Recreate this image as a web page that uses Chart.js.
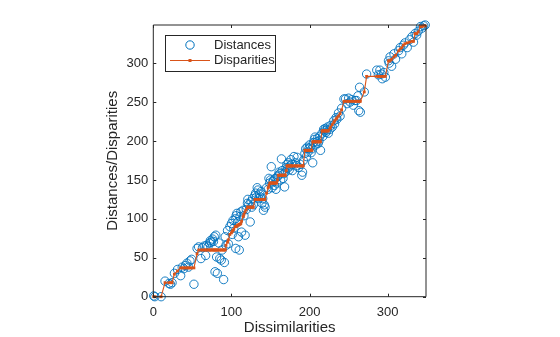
<!DOCTYPE html>
<html>
<head>
<meta charset="utf-8">
<script src="https://cdn.jsdelivr.net/npm/chart.js@4/dist/chart.umd.min.js"></script>
<style>
  html, body { margin: 0; padding: 0; background: #fff; }
  #wrap { width: 560px; height: 337px; position: relative; }
</style>
</head>
<body>
<div id="wrap"><canvas id="shepard"></canvas></div>
<script>
// Shepard plot: dissimilarities vs distances / disparities
const dissimilarities = [
  0.5, 2, 10, 15, 20, 22, 24, 27, 31, 35, 37, 39, 41, 43, 45, 47, 49, 52,
  56, 58, 61, 63, 65, 67, 68, 70, 72, 73, 74, 76, 77, 78, 79, 80, 81, 82, 84, 85, 87, 88, 90, 91, 92,
  93, 95, 96, 98, 100, 101, 102, 103, 105, 105.5, 106, 107, 108, 109, 110, 111, 112, 113, 115, 116, 117.5, 119,
  120.5, 121, 122, 124, 125, 126, 127, 128, 130, 131, 132, 133, 134, 135, 136, 137, 138, 139, 140, 141, 142, 143, 145, 147, 148,
  149, 150, 151, 152, 153, 154, 155, 156, 157, 158, 159, 160, 161, 162, 163, 164, 165, 166, 167, 168, 169, 170,
  171, 172, 173, 174, 175, 176, 177, 178, 180, 182, 183, 184, 186, 188, 190, 191, 192,
  194, 195, 196, 197, 198, 199, 200, 201, 202, 203, 204, 205, 206, 207, 208, 209, 210, 211, 212, 213, 214,
  216, 217, 218, 219, 220, 221, 222, 223, 224, 226, 227, 229, 231, 232, 234, 235, 237, 239, 241,
  244, 246, 248, 250, 252, 254, 256, 258, 260, 262, 263, 264, 265, 270, 273,
  286, 288, 290, 292, 293, 295, 297, 301, 302, 303, 305, 308, 310, 314, 316, 318, 320, 322, 325,
  328, 331, 333, 335, 337, 339, 342, 344, 346, 348
];
const distances = [
  1, 0, 0, 20, 17, 16, 18, 30, 35, 27, 38, 36, 40, 43, 38, 46, 48, 16,
  62, 64, 49, 63, 65, 53, 66, 64, 69, 72, 70, 74, 71, 77, 32, 79, 51, 30, 69, 49, 47, 60, 22, 44, 77,
  66, 85, 68, 90, 94, 80, 98, 88, 100, 62, 104, 107, 96, 77, 60, 103, 109, 83, 111, 104, 79, 112,
  120, 125, 118, 96, 122, 115, 126, 118, 130, 133, 128, 140, 137, 126, 132, 128, 135, 120, 126, 111, 118, 115, 140, 138, 152,
  146, 150, 167, 140, 148, 150, 143, 152, 138, 146, 154, 156, 160, 158, 150, 177, 162, 152, 158, 141, 160, 166,
  170, 165, 172, 163, 168, 176, 170, 162, 180, 172, 168, 179, 166, 170, 156, 160, 175,
  184, 190, 180, 192, 186, 190, 195, 192, 185, 190, 172, 198, 202, 205, 195, 199, 203, 197, 200, 206, 188,
  210, 206, 215, 213, 216, 211, 214, 218, 210, 215, 220, 218, 226, 222, 230, 228, 236, 232, 242,
  254, 254, 248, 255, 250, 253, 246, 252, 252, 258, 239, 269, 237, 263, 286,
  291, 285, 291, 286, 280, 288, 282, 303, 300, 308, 296, 312, 305, 316, 320, 312, 323, 326, 320,
  330, 334, 327, 338, 336, 341, 347, 345, 348, 349
];
const disparities = [
  0, 0, 0, 18, 18, 18, 18, 29, 33, 37, 37, 37, 37, 37, 37, 37, 37, 37,
  55, 60, 60, 60, 60, 60, 60, 60, 60, 60, 60, 60, 60, 60, 60, 60, 60, 60, 60, 60, 60, 60, 60, 60, 60,
  66, 70, 73, 80, 82, 84, 85, 87, 90, 90, 90, 91, 92, 92, 93, 93, 94, 97, 103, 106, 109, 112,
  115, 115, 115, 115, 115, 115, 115, 115, 125, 125, 125, 125, 125, 125, 125, 125, 125, 125, 125, 125, 125, 125, 133, 140, 143,
  146, 146, 146, 146, 146, 146, 146, 146, 146, 146, 150, 156, 156, 156, 156, 156, 156, 156, 156, 156, 156, 162,
  168, 168, 168, 168, 168, 168, 168, 168, 168, 168, 168, 168, 168, 168, 168, 168, 168,
  188, 188, 188, 188, 188, 188, 188, 188, 188, 188, 199, 199, 199, 199, 199, 199, 199, 199, 199, 199, 199,
  213, 213, 213, 213, 213, 213, 213, 213, 213, 216, 218, 221, 224, 226, 228, 230, 232, 235, 240,
  251, 251, 251, 251, 251, 251, 251, 251, 251, 251, 251, 251, 251, 263, 283,
  283, 283, 283, 283, 283, 283, 283, 303, 303, 303, 305, 308, 310, 316, 318, 320, 323, 325, 326,
  327, 328, 328, 338, 338, 340, 347, 347, 348, 348
];
const xTicks = [0, 100, 200, 300];
const yTicks = [0, 50, 100, 150, 200, 250, 300];
const seriesNames = ['Distances', 'Disparities'];

const blue = '#0072BD';
const orange = '#D95319';
const ink = '#262626';
const fontFamily = '"Liberation Sans", Arial, Helvetica, sans-serif';

const distPoints = dissimilarities.map((d, i) => ({x: d, y: distances[i]}));
const dispPoints = dissimilarities.map((d, i) => ({x: d, y: disparities[i]}));

// box, inside ticks, legend and axis labels in MATLAB style
const matlabFrame = {
  id: 'matlabFrame',
  afterDatasetsDraw(chart) {
    const {ctx, chartArea: a, scales: {x, y}} = chart;
    ctx.save();
    ctx.strokeStyle = ink;
    ctx.lineWidth = 1;
    ctx.beginPath();
    ctx.rect(a.left, a.top, a.right - a.left, a.bottom - a.top);
    ctx.stroke();
    const tl = 3;
    ctx.beginPath();
    xTicks.forEach(v => {
      const px = Math.round(x.getPixelForValue(v)) + 0.5;
      ctx.moveTo(px, a.bottom); ctx.lineTo(px, a.bottom - tl);
      ctx.moveTo(px, a.top); ctx.lineTo(px, a.top + tl);
    });
    yTicks.forEach(v => {
      const py = Math.round(y.getPixelForValue(v)) + 0.5;
      ctx.moveTo(a.left, py); ctx.lineTo(a.left + tl, py);
      ctx.moveTo(a.right, py); ctx.lineTo(a.right - tl, py);
    });
    ctx.stroke();
    ctx.restore();
  },
  afterDraw(chart) {
    const {ctx, chartArea: a} = chart;
    ctx.save();
    // axis labels
    ctx.fillStyle = ink;
    ctx.font = '15px ' + fontFamily;
    ctx.textAlign = 'center';
    ctx.textBaseline = 'middle';
    ctx.fillText('Dissimilarities', (a.left + a.right) / 2, 328);
    ctx.translate(113, (a.top + a.bottom) / 2);
    ctx.rotate(-Math.PI / 2);
    ctx.fillText('Distances/Disparities', 0, 0);
    ctx.restore();

    // legend
    ctx.save();
    const lx = 165.5, ly = 35.5, lw = 110, lh = 36;
    ctx.fillStyle = '#fff';
    ctx.fillRect(lx, ly, lw, lh);
    ctx.strokeStyle = ink;
    ctx.lineWidth = 1;
    ctx.strokeRect(lx, ly, lw, lh);
    ctx.strokeStyle = blue;
    ctx.beginPath();
    ctx.arc(190, 45, 4.2, 0, Math.PI * 2);
    ctx.stroke();
    ctx.strokeStyle = orange;
    ctx.beginPath();
    ctx.moveTo(170, 60.5); ctx.lineTo(210, 60.5);
    ctx.stroke();
    ctx.fillStyle = orange;
    ctx.fillRect(188.5, 59, 3, 3);
    ctx.fillStyle = ink;
    ctx.font = '13px ' + fontFamily;
    ctx.textAlign = 'left';
    ctx.textBaseline = 'middle';
    ctx.fillText(seriesNames[0], 214, 45);
    ctx.fillText(seriesNames[1], 214, 60);
    ctx.restore();
  }
};

new Chart(document.getElementById('shepard'), {
  data: {
    datasets: [
      {
        type: 'line',
        label: seriesNames[1],
        data: dispPoints,
        borderColor: orange,
        borderWidth: 1.1,
        backgroundColor: orange,
        pointStyle: 'rect',
        pointRadius: 2,
        pointBorderWidth: 0,
        tension: 0,
        clip: false,
        order: 0
      },
      {
        type: 'scatter',
        label: seriesNames[0],
        data: distPoints,
        borderColor: blue,
        backgroundColor: 'rgba(0,0,0,0)',
        pointStyle: 'circle',
        pointRadius: 4.2,
        borderWidth: 0.9,
        clip: false,
        order: 1
      }
    ]
  },
  options: {
    responsive: true,
    maintainAspectRatio: false,
    animation: false,
    events: [],
    layout: { padding: { left: 0, top: 25, right: 134, bottom: 0 } },
    plugins: { legend: { display: false }, tooltip: { enabled: false } },
    scales: {
      x: {
        type: 'linear',
        min: 0,
        max: 349,
        afterFit: s => { s.height = 40.3; },
        afterBuildTicks: s => { s.ticks = xTicks.map(v => ({value: v})); },
        grid: { display: false, drawTicks: false },
        border: { display: false },
        ticks: { color: ink, padding: 8, font: { size: 13, family: fontFamily } }
      },
      y: {
        type: 'linear',
        min: 0,
        max: 349,
        afterFit: s => { s.width = 153.3; },
        afterBuildTicks: s => { s.ticks = yTicks.map(v => ({value: v})); },
        grid: { display: false, drawTicks: false },
        border: { display: false },
        ticks: { color: ink, padding: 5, font: { size: 13, family: fontFamily } }
      }
    }
  },
  plugins: [matlabFrame]
});
</script>
</body>
</html>
